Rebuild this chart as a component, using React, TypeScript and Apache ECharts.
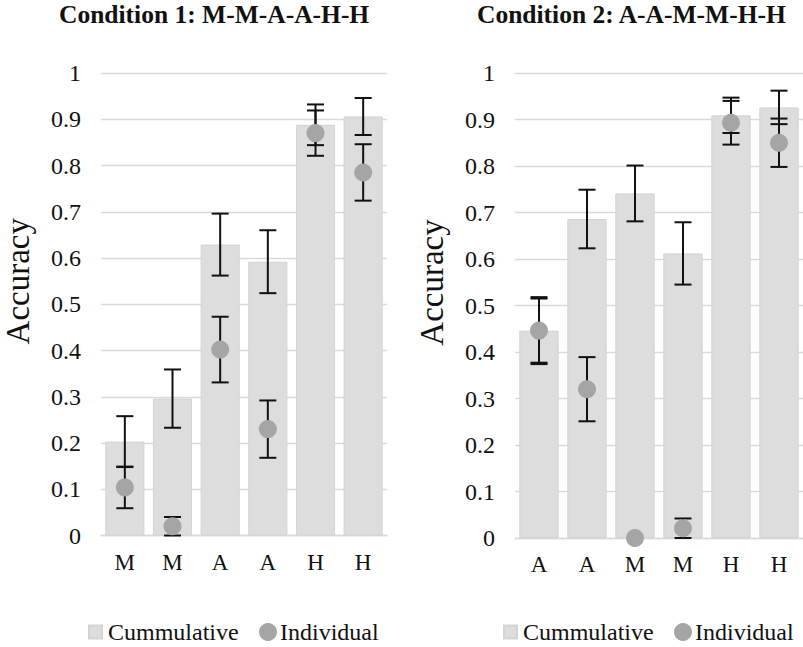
import React, { useEffect, useRef } from "react";
import * as echarts from "echarts";

const cats1 = ["M", "M", "A", "A", "H", "H"];
const cum1 = [0.203, 0.296, 0.629, 0.592, 0.888, 0.906];
const cumErr1 = [0.055, 0.063, 0.067, 0.068, 0.044, 0.04];
const ind1 = [0.104, 0.02, 0.402, 0.23, 0.87, 0.785];
const indErr1 = [0.045, 0.02, 0.071, 0.062, 0.049, 0.061];

const cats2 = ["A", "A", "M", "M", "H", "H"];
const cum2 = [0.446, 0.686, 0.741, 0.612, 0.909, 0.926];
const cumErr2 = [0.069, 0.063, 0.06, 0.067, 0.038, 0.036];
const ind2 = [0.446, 0.32, 0.0, 0.021, 0.893, 0.85];
const indErr2 = [0.072, 0.069, 0, 0.021, 0.047, 0.052];

const titles = ["Condition 1: M-M-A-A-H-H", "Condition 2: A-A-M-M-H-H"];
const yTitle = "Accuracy";
const nameCum = "Cummulative";
const nameInd = "Individual";

const FONT = "Liberation Serif";
const BAR = "#dddddd";
const DOT = "#a5a5a5";
const GRIDC = "#dadada";

function errData(vals: number[], errs: number[]) {
  return vals.map((v, i) => [i, v - errs[i], v + errs[i]]);
}

function errRender(params: any, api: any) {
  const i = api.value(0);
  const lo = api.coord([i, api.value(1)]);
  const hi = api.coord([i, api.value(2)]);
  if (Math.abs(hi[1] - lo[1]) < 0.5) return { type: "group", children: [] };
  const hw = 8.5;
  const st = { stroke: "#111", lineWidth: 2 };
  return {
    type: "group",
    children: [
      { type: "line", shape: { x1: lo[0], y1: lo[1], x2: hi[0], y2: hi[1] }, style: st },
      { type: "line", shape: { x1: lo[0] - hw, y1: lo[1], x2: lo[0] + hw, y2: lo[1] }, style: st },
      { type: "line", shape: { x1: hi[0] - hw, y1: hi[1], x2: hi[0] + hw, y2: hi[1] }, style: st },
    ],
  };
}

export default function App() {
  const ref = useRef<HTMLDivElement>(null);
  useEffect(() => {
    if (!ref.current) return;
    const chart = echarts.init(ref.current, null, { renderer: "svg" });
    const grids = [
      { left: 101, top: 73, width: 286, height: 462.5, outerBoundsMode: "none" },
      { left: 515, top: 73, width: 288, height: 465, outerBoundsMode: "none" },
    ];
    const xAxis = [cats1, cats2].map((c, k) => ({
      type: "category",
      gridIndex: k,
      data: c,
      axisLine: { show: true, lineStyle: { color: GRIDC, width: 1.3 } },
      axisTick: { show: false },
      axisLabel: { color: "#111", fontFamily: FONT, fontSize: 23, margin: 15 },
    }));
    const yAxis = [0, 1].map((k) => ({
      type: "value",
      gridIndex: k,
      min: 0,
      max: 1,
      interval: 0.1,
      name: yTitle,
      nameLocation: "middle",
      nameGap: 67,
      nameMoveOverlap: false,
      nameTextStyle: { color: "#111", fontFamily: FONT, fontSize: 33, padding: [0, 0, 0, 46] },
      axisLine: { show: false },
      axisTick: { show: false },
      axisLabel: { color: "#111", fontFamily: FONT, fontSize: 24, margin: 20 },
      splitLine: { show: true, lineStyle: { color: GRIDC, width: 1.3 } },
    }));
    const series: any[] = [];
    const sets = [
      [cum1, cumErr1, ind1, indErr1],
      [cum2, cumErr2, ind2, indErr2],
    ];
    sets.forEach(([cum, cumErr, ind, indErr], k) => {
      series.push({
        name: nameCum,
        type: "bar",
        xAxisIndex: k,
        yAxisIndex: k,
        data: cum,
        barWidth: "82%",
        itemStyle: { color: BAR, borderColor: "#d3d3d3", borderWidth: 1 },
        z: 2,
      });
      series.push({
        type: "custom",
        xAxisIndex: k,
        yAxisIndex: k,
        data: errData(cum, cumErr),
        encode: { x: 0, y: [1, 2] },
        renderItem: errRender,
        z: 3,
      });
      series.push({
        type: "custom",
        xAxisIndex: k,
        yAxisIndex: k,
        data: errData(ind, indErr),
        encode: { x: 0, y: [1, 2] },
        renderItem: errRender,
        z: 3,
      });
      series.push({
        name: nameInd,
        type: "scatter",
        xAxisIndex: k,
        yAxisIndex: k,
        data: ind.map((v, i) => [i, v]),
        symbol: "circle",
        symbolSize: 18,
        itemStyle: { color: DOT, opacity: 1 },
        z: 4,
      });
    });
    const legend = [
      { left: 88, name: nameCum, icon: "rect", w: 13 },
      { left: 259, name: nameInd, icon: "circle", w: 18 },
      { left: 503, name: nameCum, icon: "rect", w: 13 },
      { left: 674, name: nameInd, icon: "circle", w: 18 },
    ].map((l) => ({
      left: l.left,
      top: 620,
      padding: 0,
      itemWidth: l.w,
      itemHeight: l.w,
      itemGap: 0,
      data: [{ name: l.name, icon: l.icon }],
      textStyle: { color: "#111", fontFamily: FONT, fontSize: 24, padding: [0, 0, 0, l.icon === "rect" ? 1 : -2] },
      selectedMode: false,
    }));
    chart.setOption({
      animation: false,
      backgroundColor: "#ffffff",
      textStyle: { fontFamily: FONT },
      title: [
        { text: titles[0], left: 59, top: 1, padding: 0 },
        { text: titles[1], left: 477, top: 1, padding: 0 },
      ].map((t) => ({
        ...t,
        textStyle: { color: "#111", fontFamily: FONT, fontSize: 25.5, fontWeight: "bold" },
      })),
      grid: grids,
      xAxis,
      yAxis,
      legend,
      series,
    });
    return () => chart.dispose();
  }, []);
  return (
    <div
      ref={ref}
      style={{ position: "fixed", left: 0, top: 0, width: 803, height: 647 }}
    />
  );
}
